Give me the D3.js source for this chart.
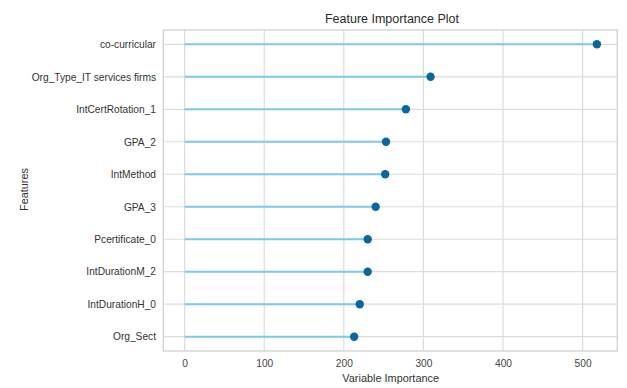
<!DOCTYPE html>
<html>
<head>
<meta charset="utf-8">
<script src="https://cdn.jsdelivr.net/npm/d3@7"></script>
<style>
  html, body { margin: 0; padding: 0; background: #ffffff; }
  svg { display: block; font-family: "Liberation Sans", Arial, sans-serif; }
</style>
</head>
<body>
<svg id="chart" width="627" height="388"></svg>
<script>
// Feature names, top to bottom
const features = [
  "co-curricular",
  "Org_Type_IT services firms",
  "IntCertRotation_1",
  "GPA_2",
  "IntMethod",
  "GPA_3",
  "Pcertificate_0",
  "IntDurationM_2",
  "IntDurationH_0",
  "Org_Sect"
];
// Variable importance per feature
const importance = [518, 309, 278, 253, 252, 240, 230, 230, 220, 213];
// X-axis ticks
const xTicks = [0, 100, 200, 300, 400, 500];

const title = "Feature Importance Plot";
const xLabel = "Variable Importance";
const yLabel = "Features";

const svg = d3.select("#chart");
const plotL = 163.3, plotR = 617.3, plotT = 30, plotB = 351;
const fontFam = "'Liberation Sans', Arial, sans-serif";

const x = d3.scaleLinear().domain([-26.8, 543.6]).range([plotL, plotR]);
const y = d3.scalePoint().domain(features).range([44.3, 336.7]);

const gridColor = "#dcdcdc";

// vertical grid
svg.append("g").selectAll("line").data(xTicks).join("line")
  .attr("x1", d => x(d)).attr("x2", d => x(d))
  .attr("y1", plotT).attr("y2", plotB)
  .attr("stroke", gridColor).attr("stroke-width", 1.2);

// horizontal grid
svg.append("g").selectAll("line").data(features).join("line")
  .attr("x1", plotL).attr("x2", plotR)
  .attr("y1", d => y(d)).attr("y2", d => y(d))
  .attr("stroke", gridColor).attr("stroke-width", 1.2);

// frame
svg.append("rect")
  .attr("x", plotL).attr("y", plotT)
  .attr("width", plotR - plotL).attr("height", plotB - plotT)
  .attr("fill", "none").attr("stroke", "#d4d4d4").attr("stroke-width", 1.4);

// stems
svg.append("g").selectAll("line").data(features).join("line")
  .attr("x1", x(0)).attr("x2", (d, i) => x(importance[i]))
  .attr("y1", d => y(d)).attr("y2", d => y(d))
  .attr("stroke", "#7ec8ea").attr("stroke-width", 2);

// dots
svg.append("g").selectAll("circle").data(features).join("circle")
  .attr("cx", (d, i) => x(importance[i]))
  .attr("cy", d => y(d))
  .attr("r", 4.2)
  .attr("fill", "#0a66a0");

// x axis
const xAxis = d3.axisBottom(x).tickValues(xTicks).tickSize(0).tickPadding(9);
const gx = svg.append("g").attr("transform", `translate(0,${plotB})`).call(xAxis);
gx.select(".domain").remove();
gx.selectAll("text").attr("font-size", 10.2).attr("fill", "#444444")
  .style("font-family", fontFam);

// y axis
const yAxis = d3.axisLeft(y).tickSize(0).tickPadding(7.3);
const gy = svg.append("g").attr("transform", `translate(${plotL},0)`).call(yAxis);
gy.select(".domain").remove();
gy.selectAll("text").attr("font-size", 10.2).attr("fill", "#333333")
  .style("font-family", fontFam);

// title
svg.append("text")
  .attr("x", 392).attr("y", 22.5)
  .attr("text-anchor", "middle")
  .attr("font-size", 12.5).attr("fill", "#2a2a2a")
  .text(title);

// axis titles
svg.append("text")
  .attr("x", 390.7).attr("y", 382)
  .attr("text-anchor", "middle")
  .attr("font-size", 10.9).attr("fill", "#333333")
  .text(xLabel);

svg.append("text")
  .attr("transform", `translate(27.5,189.5) rotate(-90)`)
  .attr("text-anchor", "middle")
  .attr("font-size", 10.9).attr("fill", "#333333")
  .text(yLabel);
</script>
</body>
</html>
